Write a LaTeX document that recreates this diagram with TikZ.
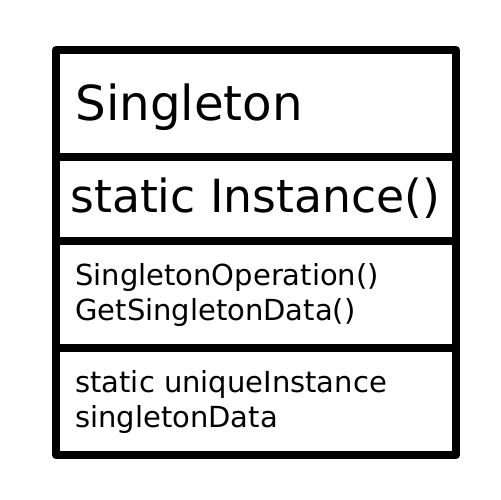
\documentclass[tikz,border=0pt]{standalone}
\usepackage{fontspec}
\setmainfont{DejaVu Sans}
\usetikzlibrary{positioning}
\tikzset{
  frame/.style={line width=4.5pt,draw=black,line join=round,line cap=round},
  big/.style={anchor=base west,inner sep=0pt,font=\fontsize{27.5pt}{33pt}\selectfont},
  mid/.style={anchor=base west,inner sep=0pt,font=\fontsize{26pt}{31pt}\selectfont},
  small/.style={anchor=base west,inner sep=0pt,font=\fontsize{16.5pt}{19.8pt}\selectfont}
}
\begin{document}
\begin{tikzpicture}[x=0.02cm,y=-0.02cm]
\useasboundingbox (0,0) rectangle (500,500);
\coordinate (tl) at (56,50);
\coordinate (br) at (456,455);
\draw[frame] (tl) rectangle (br);
\draw[frame] (56,157) -- (456,157);
\draw[frame] (56,241) -- (456,241);
\draw[frame] (56,348) -- (456,348);
\node[big] (name) at (75,120) {Singleton};
\node[mid] (inst) at (70,212) {static Instance()};
\node[small] (op1) at (75,285) {SingletonOperation()};
\node[small] (op2) at (75,320) {GetSingletonData()};
\node[small] (at1) at (75,392) {static uniqueInstance};
\node[small] (at2) at (75,427) {singletonData};
\end{tikzpicture}
\end{document}
